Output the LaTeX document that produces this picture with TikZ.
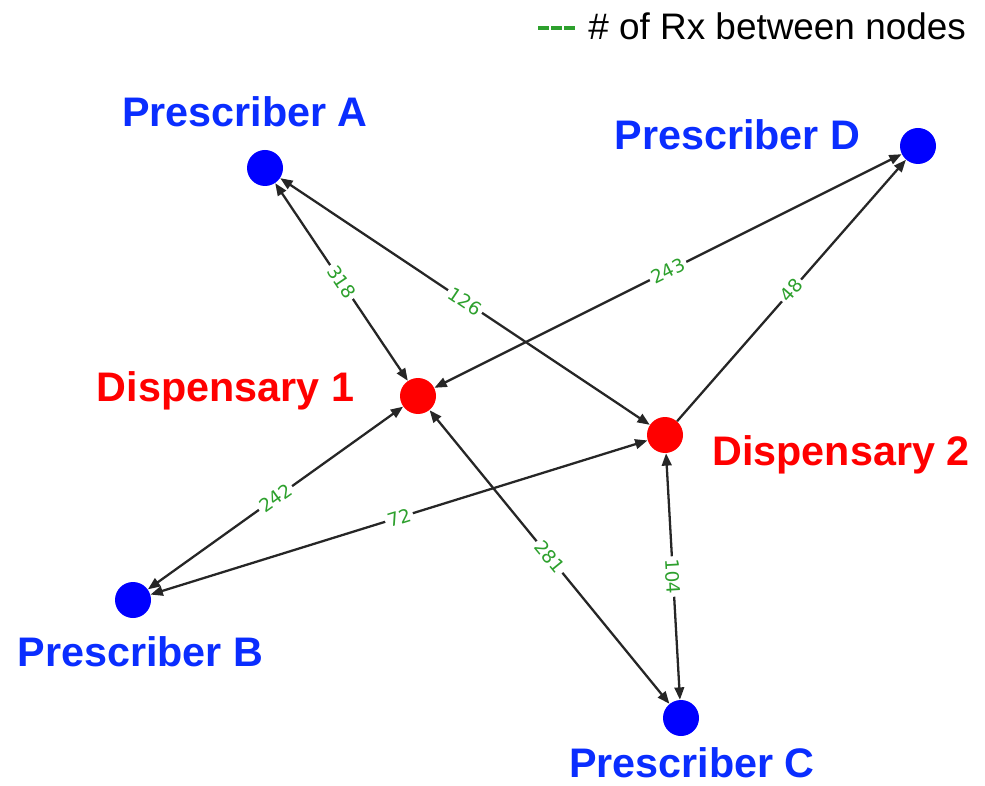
\documentclass[tikz,border=0pt]{standalone}
\usepackage{fontspec}
\setmainfont{Liberation Sans}
\newfontfamily\numfont{DejaVu Sans}
\usetikzlibrary{arrows.meta}
\definecolor{nodeblue}{RGB}{0,0,255}
\definecolor{textblue}{RGB}{10,45,255}
\definecolor{rxgreen}{RGB}{45,160,45}
\tikzset{
  presc/.style={circle, fill=nodeblue, minimum size=0.72cm, inner sep=0pt},
  disp/.style={circle, fill=red, minimum size=0.72cm, inner sep=0pt},
  pname/.style={anchor=base, text=textblue, font=\fontsize{23.5}{28}\selectfont\bfseries, inner sep=0pt},
  dname/.style={anchor=base, text=red, font=\fontsize{23.5}{28}\selectfont\bfseries, inner sep=0pt},
  rx/.style={midway, sloped, fill=white, text=rxgreen, font=\numfont\fontsize{10.5}{12}\selectfont, inner sep=1.5pt},
  link/.style={draw=black!85, line width=1.3pt, {Triangle[length=7pt,width=5.5pt]}-{Triangle[length=7pt,width=5.5pt]}},
  onelink/.style={draw=black!85, line width=1.3pt, -{Triangle[length=7pt,width=5.5pt]}}
}
\begin{document}
\begin{tikzpicture}
		\useasboundingbox (0,0) rectangle (19.70,15.70);
		% legend
		\draw[rxgreen, line width=2.3pt, dash pattern=on 6pt off 1.5pt] (10.76,15.14) coordinate (lg1) -- (11.50,15.14) coordinate (lg2);
		\node[anchor=base west, inner sep=0pt, font=\fontsize{21}{25}\selectfont] (legend) at (11.76,14.90) {\# of Rx between nodes};
		% nodes
		\node[presc] (pA) at (5.30,12.34) {};
		\node[presc] (pD) at (18.36,12.78) {};
		\node[disp] (d1) at (8.36,7.78) {};
		\node[disp] (d2) at (13.30,7.00) {};
		\node[presc] (pB) at (2.66,3.70) {};
		\node[presc] (pC) at (13.62,1.34) {};
		% names
		\node[pname] (lA) at (4.90,13.16) {Prescriber A};
		\node[pname] (lD) at (14.75,12.70) {Prescriber D};
		\node[dname] (l1) at (4.51,7.66) {Dispensary 1};
		\node[dname] (l2) at (16.82,6.40) {Dispensary 2};
		\node[pname] (lB) at (2.81,2.38) {Prescriber B};
		\node[pname] (lC) at (13.84,0.16) {Prescriber C};
		% edges
		\draw[link] (pA) -- node[rx] {318} (d1);
		\draw[link] (pA) -- node[rx] {126} (d2);
		\draw[link] (d1) -- node[rx] {243} (pD);
		\draw[onelink] (d2) -- node[rx] {48} (pD);
		\draw[link] (d1) -- node[rx] {242} (pB);
		\draw[link] (d2) -- node[rx] {72} (pB);
		\draw[link] (d1) -- node[rx] {281} (pC);
		\draw[link] (d2) -- node[rx] {104} (pC);
\end{tikzpicture}
\end{document}
